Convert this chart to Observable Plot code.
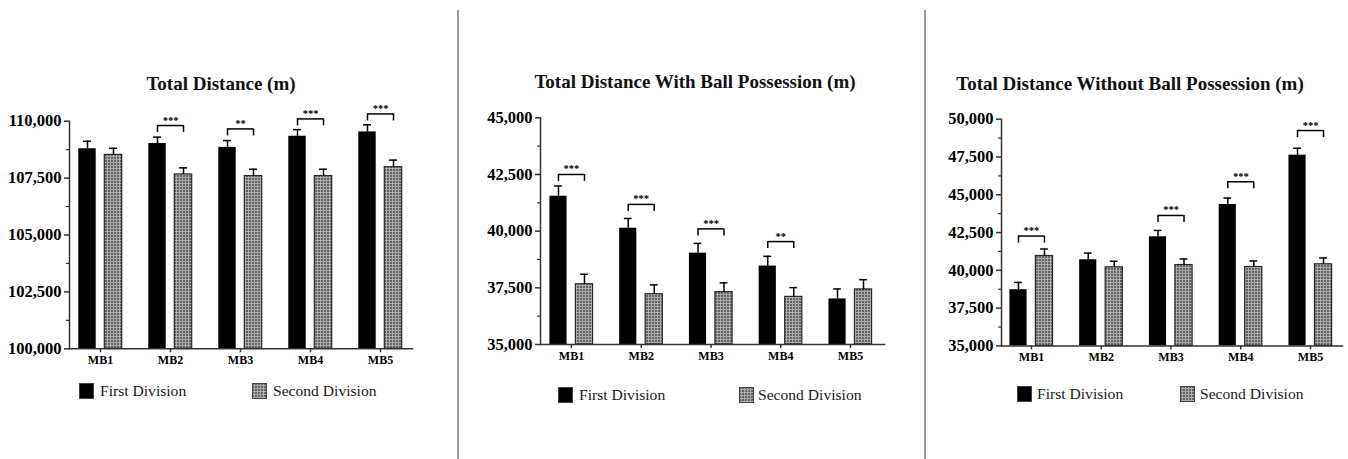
<!DOCTYPE html>
<html><head><meta charset="utf-8">
<script src="https://cdn.jsdelivr.net/npm/d3@7"></script>
<script src="https://cdn.jsdelivr.net/npm/@observablehq/plot@0.6"></script>
<style>
body{margin:0;background:#fff;width:1348px;height:459px;position:relative;overflow:hidden;font-family:'Liberation Serif','Times New Roman',serif;}
.title{position:absolute;font-weight:bold;font-size:19px;color:#111;white-space:nowrap;transform:translate(-50%,-50%);line-height:1}
.sep{position:absolute;width:2px;background:#9a9a9a;top:10px;bottom:0}
.leg{position:absolute;font-size:15.6px;color:#1a1a1a;white-space:nowrap;line-height:1;transform:translateY(-50%)}
.sw{position:absolute}
.plot{position:absolute}
</style></head><body>
<svg width="0" height="0" style="position:absolute"><defs>
<pattern id="dots" width="3" height="3" patternUnits="userSpaceOnUse"><rect width="3" height="3" fill="#ababab"/><rect width="2" height="2" fill="#636363"/></pattern>
</defs></svg>
<div id="root"></div>
<script>
// ---------- data ----------
const categories = ["MB1", "MB2", "MB3", "MB4", "MB5"];
const divisions = ["First Division", "Second Division"];

const titles = ["Total Distance (m)", "Total Distance With Ball Possession (m)", "Total Distance Without Ball Possession (m)"];

// Panel 1: Total Distance
const totalFirst = [108790, 109020, 108850, 109340, 109530];
const totalFirstErr = [330, 280, 300, 290, 310];
const totalSecond = [108520, 107660, 107590, 107590, 107980];
const totalSecondErr = [290, 290, 300, 300, 310];
const totalSig = ["", "***", "**", "***", "***"];
const totalSigY = [null, 109810, 109660, 110100, 110320];
const totalTicks = [100000, 102500, 105000, 107500, 110000];

// Panel 2: With Ball Possession
const withFirst = [41540, 40130, 39030, 38460, 37010];
const withFirstErr = [450, 430, 430, 430, 440];
const withSecond = [37660, 37220, 37310, 37100, 37430];
const withSecondErr = [440, 410, 410, 410, 430];
const withSig = ["***", "***", "***", "**", ""];
const withSigY = [42500, 41180, 40100, 39540, null];
const withTicks = [35000, 37500, 40000, 42500, 45000];

// Panel 3: Without Ball Possession
const withoutFirst = [38720, 40700, 42220, 44360, 47620];
const withoutFirstErr = [480, 440, 420, 420, 460];
const withoutSecond = [40950, 40200, 40350, 40220, 40400];
const withoutSecondErr = [460, 400, 400, 400, 420];
const withoutSig = ["***", "", "***", "***", "***"];
const withoutSigY = [42270, null, 43630, 45860, 49250];
const withoutTicks = [35000, 37500, 40000, 42500, 45000, 47500, 50000];

// ---------- layout ----------
const panels = [
  {title: titles[0], first: totalFirst, firstErr: totalFirstErr, second: totalSecond, secondErr: totalSecondErr,
   sig: totalSig, sigY: totalSigY, ticks: totalTicks,
   left: 0, width: 430, marginTop: 20.7, marginBottom: 21.7, marginLeft: 69, marginRight: 18, xRange: [65, 415],
   titleX: 221, titleY: 83, leg: [79, 100, 252, 273], legY: 391},
  {title: titles[1], first: withFirst, firstErr: withFirstErr, second: withSecond, secondErr: withSecondErr,
   sig: withSig, sigY: withSigY, ticks: withTicks,
   left: 460, width: 440, marginTop: 17.3, marginBottom: 26, marginLeft: 80, marginRight: 16, xRange: [76.1, 424.9],
   titleX: 695, titleY: 81, leg: [558, 579, 739, 758], legY: 394.5},
  {title: titles[2], first: withoutFirst, firstErr: withoutFirstErr, second: withoutSecond, secondErr: withoutSecondErr,
   sig: withoutSig, sigY: withoutSigY, ticks: withoutTicks,
   left: 925, width: 423, marginTop: 18.7, marginBottom: 24.6, marginLeft: 76, marginRight: 6, xRange: [71.1, 419.9],
   titleX: 1130, titleY: 83, leg: [1017, 1037, 1180, 1200], legY: 393.5}
];
const svgTop = 100, svgHeight = 270;
const root = document.getElementById("root");

function add(html) { root.insertAdjacentHTML("beforeend", html); }

add(`<div class="sep" style="left:457px"></div>`);
add(`<div class="sep" style="left:924px"></div>`);

for (const p of panels) {
  const yMin = p.ticks[0], yMax = p.ticks[p.ticks.length - 1];
  const minor = d3.range(yMin + 1250, yMax, 2500);
  const innerH = svgHeight - p.marginTop - p.marginBottom;
  const drop = (yMax - yMin) / innerH * 7;

  const first = categories.map((c, i) => ({cat: c, division: divisions[0], value: p.first[i], err: p.firstErr[i]}));
  const second = categories.map((c, i) => ({cat: c, division: divisions[1], value: p.second[i], err: p.secondErr[i]}));
  const sigRows = categories.map((c, i) => ({cat: c, sig: p.sig[i], y: p.sigY[i]})).filter(d => d.y != null);

  const chart = Plot.plot({
    width: p.width,
    height: svgHeight,
    marginTop: p.marginTop,
    marginBottom: p.marginBottom,
    marginLeft: p.marginLeft,
    marginRight: p.marginRight,
    style: {fontFamily: "'Liberation Serif','Times New Roman',serif", color: "#000", background: "transparent", overflow: "visible"},
    x: {domain: categories, range: p.xRange, padding: 0, round: false, label: null},
    y: {domain: [yMin, yMax], label: null},
    marks: [
      Plot.barY(first, {x: "cat", y1: () => yMin, y2: "value", fill: "#000", insetLeft: 13.3, insetRight: 39.3}),
      Plot.barY(second, {x: "cat", y1: () => yMin, y2: "value", fill: "url(#dots)", stroke: "#2a2a2a", strokeWidth: 1.2, insetLeft: 39.3, insetRight: 13.3}),
      Plot.ruleX(first, {x: "cat", y1: "value", y2: d => d.value + d.err, dx: -13, stroke: "#000", strokeWidth: 1.5}),
      Plot.tickY(first, {x: "cat", y: d => d.value + d.err, insetLeft: 18, insetRight: 44, stroke: "#000", strokeWidth: 1.5}),
      Plot.ruleX(second, {x: "cat", y1: "value", y2: d => d.value + d.err, dx: 13, stroke: "#000", strokeWidth: 1.5}),
      Plot.tickY(second, {x: "cat", y: d => d.value + d.err, insetLeft: 44, insetRight: 18, stroke: "#000", strokeWidth: 1.5}),
      Plot.tickY(sigRows, {x: "cat", y: "y", insetLeft: 22, insetRight: 22, stroke: "#000", strokeWidth: 1.5}),
      Plot.ruleX(sigRows, {x: "cat", y1: "y", y2: d => d.y - drop, dx: -13, stroke: "#000", strokeWidth: 1.5}),
      Plot.ruleX(sigRows, {x: "cat", y1: "y", y2: d => d.y - drop, dx: 13, stroke: "#000", strokeWidth: 1.5}),
      Plot.text(sigRows, {x: "cat", y: "y", text: "sig", dy: -2, lineAnchor: "bottom", fontSize: 10.5, fontWeight: "bold", fill: "#000"}),
      Plot.axisY({ticks: p.ticks, tickFormat: d3.format(","), tickSize: 5, tickPadding: 3, fontSize: 16.5, fontWeight: "bold", stroke: "#333", strokeWidth: 1.5, label: null}),
      Plot.axisY({ticks: minor, tickSize: 3, text: null, stroke: "#333", strokeWidth: 1.2, label: null}),
      Plot.axisX({tickSize: 4, tickPadding: 3, fontSize: 12, fontWeight: "bold", stroke: "#333", strokeWidth: 1.5, label: null}),
      Plot.frame({anchor: "left", stroke: "#333", strokeWidth: 1.5}),
      Plot.frame({anchor: "bottom", stroke: "#333", strokeWidth: 1.5})
    ]
  });
  chart.classList.add("plot");
  chart.style.left = p.left + "px";
  chart.style.top = svgTop + "px";
  root.appendChild(chart);

  add(`<div class="title" style="left:${p.titleX}px;top:${p.titleY}px">${p.title}</div>`);
  const [s1, t1, s2, t2] = p.leg;
  add(`<svg class="sw" width="15" height="16" style="left:${s1}px;top:${p.legY - 8}px"><rect x="0.5" y="0.5" width="14" height="15" fill="#000" stroke="#444"/></svg>`);
  add(`<div class="leg" style="left:${t1}px;top:${p.legY}px">${divisions[0]}</div>`);
  add(`<svg class="sw" width="15" height="16" style="left:${s2}px;top:${p.legY - 8}px"><rect x="0.5" y="0.5" width="14" height="15" fill="url(#dots)" stroke="#444"/></svg>`);
  add(`<div class="leg" style="left:${t2}px;top:${p.legY}px">${divisions[1]}</div>`);
}
</script>
</body></html>
